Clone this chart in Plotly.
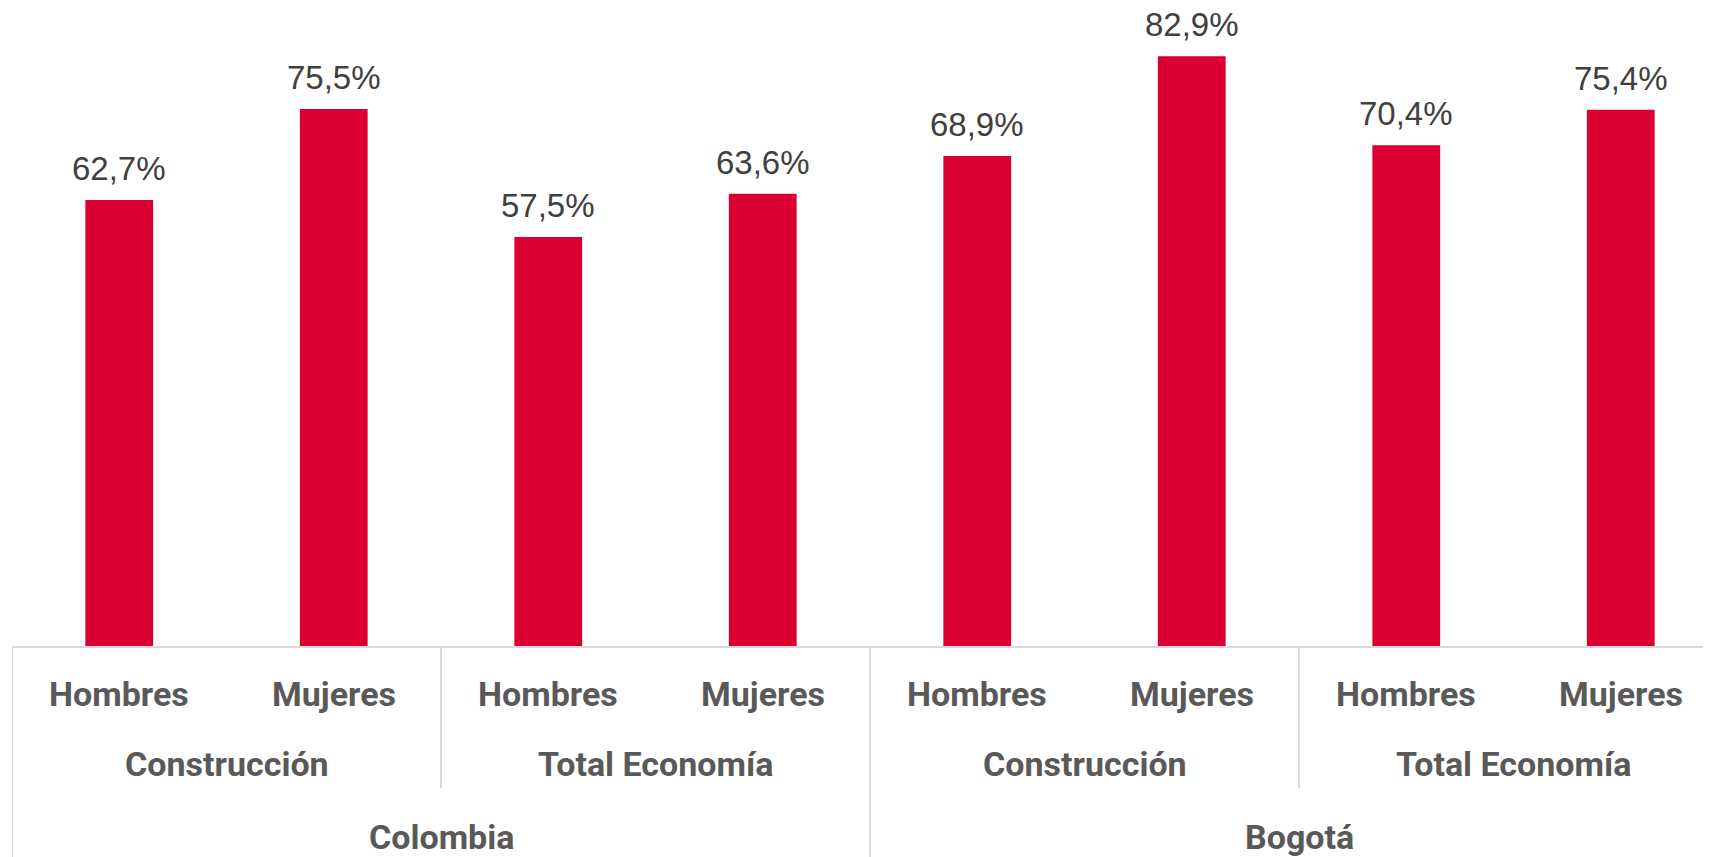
import plotly.graph_objects as go

# data
regiones = ["Colombia", "Bogotá"]
sectores = ["Construcción", "Total Economía"]
generos = ["Hombres", "Mujeres"]
valores = [62.7, 75.5, 57.5, 63.6, 68.9, 82.9, 70.4, 75.4]

ROJO = "#DC0032"
GRIS_TXT = "#595959"
GRIS_LINEA = "#D9D9D9"

# the page body has an 8px margin, so the figure sits 8px in from the top-left;
# the chart runs a little past the right edge of the window, as in the original
W, H = 1728, 857
M_L, M_R, M_T, M_B = 4, 8, 0, 219
plot_h = H - M_T - M_B

x_pos = list(range(len(valores)))

fig = go.Figure()
fig.add_trace(go.Bar(
    x=x_pos,
    y=valores,
    marker=dict(color=ROJO, line=dict(width=0)),
    width=0.316,
    hoverinfo="skip",
))

annotations = []
# value labels
for i, v in enumerate(valores):
    annotations.append(dict(
        x=i, y=v, xref="x", yref="y",
        text=f"{v:.1f}%".replace(".", ","),
        showarrow=False, yanchor="bottom", yshift=11,
        font=dict(family="Liberation Sans, Arial", size=33, color="#404040"),
    ))

lbl_font = dict(family="Roboto", size=34, color=GRIS_TXT, weight="bold")


def py(px_below):
    # pixels below the axis line -> paper coordinate
    return -px_below / plot_h


# level 1: gender
idx = 0
for r in regiones:
    for s in sectores:
        for g in generos:
            annotations.append(dict(x=idx, y=0, xref="x", yref="paper", text=g,
                                    showarrow=False, yanchor="middle", yshift=-48,
                                    font=lbl_font))
            idx += 1

# level 2: sector
n_g = len(generos)
n_s = len(sectores)
for ri, r in enumerate(regiones):
    for si, s in enumerate(sectores):
        start = (ri * n_s + si) * n_g
        annotations.append(dict(x=start + (n_g - 1) / 2, y=0, xref="x", yref="paper", text=s,
                                showarrow=False, yanchor="middle", yshift=-118,
                                font=lbl_font))

# level 3: region
for ri, r in enumerate(regiones):
    start = ri * n_s * n_g
    annotations.append(dict(x=start + (n_s * n_g - 1) / 2, y=0, xref="x", yref="paper", text=r,
                            showarrow=False, yanchor="middle", yshift=-191,
                            font=lbl_font))

shapes = []
# separators
for k in range(len(regiones) * n_s + 1):
    xb = k * n_g - 0.5
    full = (k % n_s == 0)
    shapes.append(dict(type="line", xref="x", yref="paper",
                       x0=xb, x1=xb, y0=0, y1=py(M_B) if full else py(142),
                       line=dict(color=GRIS_LINEA, width=2)))

fig.update_layout(
    width=W, height=H,
    margin=dict(l=M_L, r=M_R, t=M_T, b=M_B),
    paper_bgcolor="white", plot_bgcolor="white",
    showlegend=False,
    annotations=annotations,
    shapes=shapes,
    xaxis=dict(range=[-0.5, len(valores) - 0.5], showticklabels=False, ticks="",
               showgrid=False, zeroline=False, showline=True,
               linecolor=GRIS_LINEA, linewidth=2, fixedrange=True),
    yaxis=dict(range=[0, 89.7], visible=False, showgrid=False, fixedrange=True),
)

fig.write_html("out.html", config={"displayModeBar": False})
